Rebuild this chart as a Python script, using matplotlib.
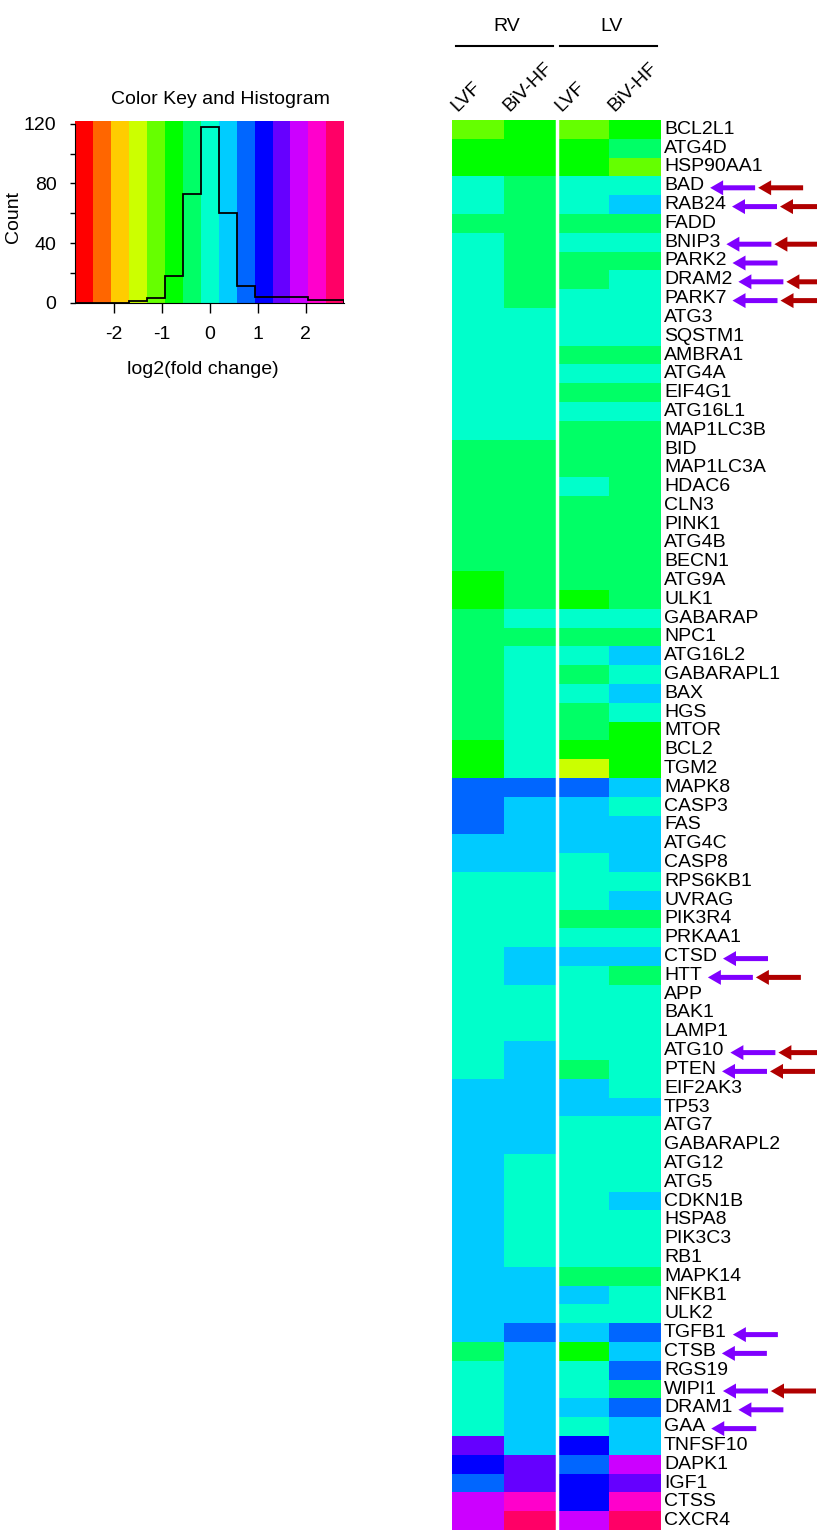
import numpy as np
import matplotlib
matplotlib.use("Agg")
import matplotlib.pyplot as plt
from matplotlib.colors import ListedColormap, BoundaryNorm, hsv_to_rgb

plt.rcParams['font.family'] = ['Liberation Sans', 'DejaVu Sans']

W, H = 817, 1531

genes = ['BCL2L1', 'ATG4D', 'HSP90AA1', 'BAD', 'RAB24', 'FADD', 'BNIP3', 'PARK2',
         'DRAM2', 'PARK7', 'ATG3', 'SQSTM1', 'AMBRA1', 'ATG4A', 'EIF4G1', 'ATG16L1',
         'MAP1LC3B', 'BID', 'MAP1LC3A', 'HDAC6', 'CLN3', 'PINK1', 'ATG4B', 'BECN1',
         'ATG9A', 'ULK1', 'GABARAP', 'NPC1', 'ATG16L2', 'GABARAPL1', 'BAX', 'HGS',
         'MTOR', 'BCL2', 'TGM2', 'MAPK8', 'CASP3', 'FAS', 'ATG4C', 'CASP8', 'RPS6KB1',
         'UVRAG', 'PIK3R4', 'PRKAA1', 'CTSD', 'HTT', 'APP', 'BAK1', 'LAMP1', 'ATG10',
         'PTEN', 'EIF2AK3', 'TP53', 'ATG7', 'GABARAPL2', 'ATG12', 'ATG5', 'CDKN1B',
         'HSPA8', 'PIK3C3', 'RB1', 'MAPK14', 'NFKB1', 'ULK2', 'TGFB1', 'CTSB', 'RGS19',
         'WIPI1', 'DRAM1', 'GAA', 'TNFSF10', 'DAPK1', 'IGF1', 'CTSS', 'CXCR4']

# log2 fold change (bin centres)
rv_lvf = [-1.1, -0.75, -0.75, 0, 0, -0.35, 0, 0, 0, 0,
          0, 0, 0, 0, 0, 0, 0, -0.35, -0.35, -0.35,
          -0.35, -0.35, -0.35, -0.35, -0.75, -0.75, -0.35, -0.35, -0.35, -0.35,
          -0.35, -0.35, -0.35, -0.75, -0.75, 0.75, 0.75, 0.75, 0.35, 0.35,
          0, 0, 0, 0, 0, 0, 0, 0, 0, 0,
          0, 0.35, 0.35, 0.35, 0.35, 0.35, 0.35, 0.35, 0.35, 0.35,
          0.35, 0.35, 0.35, 0.35, 0.35, -0.35, 0, 0, 0, 0,
          1.5, 1.1, 0.75, 1.85, 1.85]
rv_bivhf = [-0.75, -0.75, -0.75, -0.35, -0.35, -0.35, -0.35, -0.35, -0.35, -0.35,
            0, 0, 0, 0, 0, 0, 0, -0.35, -0.35, -0.35,
            -0.35, -0.35, -0.35, -0.35, -0.35, -0.35, 0, -0.35, 0, 0,
            0, 0, 0, 0, 0, 0.75, 0.35, 0.35, 0.35, 0.35,
            0, 0, 0, 0, 0.35, 0.35, 0, 0, 0, 0.35,
            0.35, 0.35, 0.35, 0.35, 0.35, 0, 0, 0, 0, 0,
            0, 0.35, 0.35, 0.35, 0.75, 0.35, 0.35, 0.35, 0.35, 0.35,
            0.35, 1.5, 1.5, 2.25, 2.6]
lv_lvf = [-1.1, -0.75, -0.75, 0, 0, -0.35, 0, -0.35, -0.35, 0,
          0, 0, -0.35, 0, -0.35, 0, -0.35, -0.35, -0.35, 0,
          -0.35, -0.35, -0.35, -0.35, -0.35, -0.75, 0, -0.35, 0, -0.35,
          0, -0.35, -0.35, -0.75, -1.5, 0.75, 0.35, 0.35, 0.35, 0,
          0, 0, -0.35, 0, 0.35, 0, 0, 0, 0, 0,
          -0.35, 0.35, 0.35, 0, 0, 0, 0, 0, 0, 0,
          0, -0.35, 0.35, 0, 0.35, -0.75, 0, 0, 0.35, 0,
          1.1, 0.75, 1.1, 1.1, 1.85]
lv_bivhf = [-0.75, -0.35, -1.1, 0, 0.35, -0.35, 0, -0.35, 0, 0,
            0, 0, -0.35, 0, -0.35, 0, -0.35, -0.35, -0.35, -0.35,
            -0.35, -0.35, -0.35, -0.35, -0.35, -0.35, 0, -0.35, 0.35, 0,
            0.35, 0, -0.75, -0.75, -0.75, 0.35, 0, 0.35, 0.35, 0.35,
            0, 0.35, -0.35, 0, 0.35, -0.35, 0, 0, 0, 0,
            0, 0, 0.35, 0, 0, 0, 0, 0.35, 0, 0,
            0, -0.35, 0, 0, 0.75, 0.35, 0.75, -0.35, 0.75, 0.35,
            0.35, 1.85, 1.5, 2.25, 2.6]

col_labels = ['LVF', 'BiV-HF', 'LVF', 'BiV-HF']
groups = ['RV', 'LV']

purple_marked = ['BAD', 'RAB24', 'BNIP3', 'PARK2', 'DRAM2', 'PARK7', 'CTSD', 'HTT',
                 'ATG10', 'PTEN', 'TGFB1', 'CTSB', 'WIPI1', 'DRAM1', 'GAA']
red_marked = ['BAD', 'RAB24', 'BNIP3', 'DRAM2', 'PARK7', 'HTT', 'ATG10', 'PTEN', 'WIPI1']

# rainbow palette, 15 bins
breaks = np.linspace(-2.8, 2.8, 16)
nb = len(breaks) - 1
colors = hsv_to_rgb(np.column_stack([np.arange(nb) / nb, np.ones(nb), np.ones(nb)]))
cmap = ListedColormap(colors)
norm = BoundaryNorm(breaks, nb)

mat = np.column_stack([rv_lvf, rv_bivhf, lv_lvf, lv_bivhf])

fig = plt.figure(figsize=(W / 100, H / 100), dpi=100)

# heatmap
ax = fig.add_axes([452 / W, 1 - 1530 / H, 209 / W, 1410 / H])
ax.imshow(mat, cmap=cmap, norm=norm, aspect='auto', interpolation='nearest')
ax.axvline(1.5, color='white', lw=2.5)
ax.set_axis_off()

row_h = 1410 / len(genes)
col_w = 209 / 4
label_txt = {}
for i, g in enumerate(genes):
    label_txt[g] = ax.text(3.5 + 3 / col_w, i, g, ha='left', va='center',
                           fontsize=14, clip_on=False)

for j, lab in enumerate(col_labels):
    ax.text(j - 0.4, -0.5 - 8 / row_h, lab, rotation=45, ha='left', va='baseline',
            rotation_mode='anchor', fontsize=14, clip_on=False)

for k, grp in enumerate(groups):
    c = 2 * k + 0.5
    ax.plot([c - 0.93, c + 0.93], [-0.5 - 74 / row_h] * 2, color='black', lw=1.5,
            clip_on=False)
    ax.text(c + 0.05, -0.5 - 93 / row_h, grp, ha='center', va='center', fontsize=14)

ax.set_xlim(-0.5, 3.5)
ax.set_ylim(len(genes) - 0.5, -0.5)

# colour key + histogram
kx = fig.add_axes([75.3 / W, 1 - 302.7 / H, 269 / W, 181.7 / H])
for i in range(nb):
    kx.axvspan(breaks[i], breaks[i + 1], color=colors[i], lw=0)
counts, _ = np.histogram(mat.ravel(), bins=breaks)
kx.stairs(counts, breaks, color='black', lw=1.3)
kx.set_xlim(-2.8, 2.8)
kx.set_ylim(0, 121.8)
kx.spines['top'].set_visible(False)
kx.spines['right'].set_visible(False)
kx.spines['left'].set_bounds(0, 120)
kx.set_xticks([-2, -1, 0, 1, 2], labels=['-2', '-1', '0', '1', '2'])
kx.set_yticks(range(0, 121, 20), labels=['0', '', '40', '', '80', '', '120'])
kx.tick_params(axis='x', length=7, width=1, pad=10, labelsize=14)
kx.tick_params(axis='y', length=3.6, width=1, pad=10, labelsize=14)
kx.set_ylabel('Count', fontsize=14)
kx.yaxis.set_label_coords(-0.2, 0.47)
kx.set_xlabel('log2(fold change)', fontsize=14)
kx.xaxis.set_label_coords(0.475, -0.32)
kx.text(0.538, 1.121, 'Color Key and Histogram', transform=kx.transAxes,
        ha='center', va='center', fontsize=14)

# arrows next to marked genes
ov = fig.add_axes([0, 0, 1, 1])
ov.set_xlim(0, W)
ov.set_ylim(H, 0)
ov.set_axis_off()

fig.canvas.draw()
rend = fig.canvas.get_renderer()
for g in purple_marked:
    i = genes.index(g)
    y = H - ax.transData.transform((0, i))[1] + 2
    x_tip = label_txt[g].get_window_extent(rend).x1 + 6
    ov.arrow(x_tip + 45, y, -45, 0, width=5, head_width=15, head_length=13,
             length_includes_head=True, color='#8000ff', lw=0)
    if g in red_marked:
        ov.arrow(x_tip + 93, y, -45, 0, width=5, head_width=15, head_length=13,
                 length_includes_head=True, color='#b00000', lw=0)

fig.savefig('out.png', dpi=100)
